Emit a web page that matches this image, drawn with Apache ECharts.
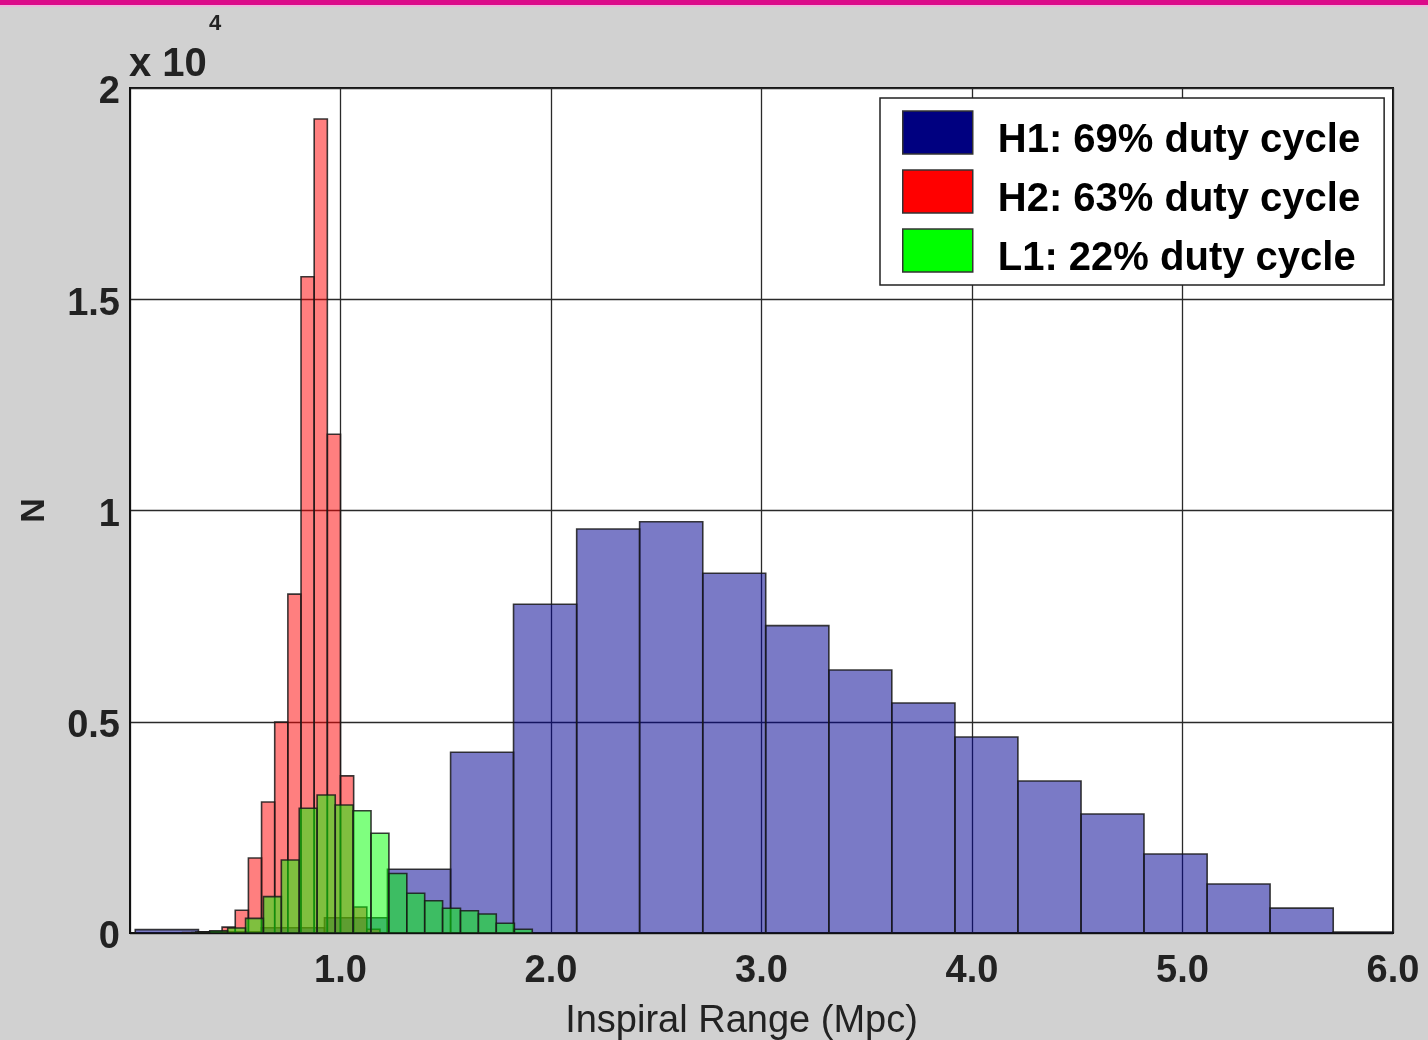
<!DOCTYPE html>
<html>
<head>
<meta charset="utf-8">
<script src="https://cdn.jsdelivr.net/npm/echarts@6/dist/echarts.min.js"></script>
<style>
html,body{margin:0;padding:0;background:#d1d1d1;}
#chart{width:1428px;height:1040px;}
</style>
</head>
<body>
<div id="chart"></div>
<script>
// ---- data (bin edges in Mpc, counts) ----
const seriesNames = ['H1: 69% duty cycle', 'H2: 63% duty cycle', 'L1: 22% duty cycle'];
const h1Edges = [0.025, 0.325, 0.624, 0.924, 1.223, 1.523, 1.822, 2.122, 2.421, 2.721, 3.020, 3.320, 3.619, 3.919, 4.218, 4.518, 4.817, 5.117, 5.416, 5.716, 6.015];
const h1Counts = [80, 30, 125, 360, 1508, 4277, 7780, 9562, 9735, 8514, 7274, 6225, 5444, 4639, 3598, 2817, 1870, 1160, 588, 25];
const h2Edges = [0.25, 0.3125, 0.375, 0.4375, 0.5, 0.5625, 0.625, 0.6875, 0.75, 0.8125, 0.875, 0.9375, 1.0, 1.0625, 1.125, 1.1875];
const h2Counts = [10, 25, 30, 140, 540, 1775, 3100, 4990, 8020, 15534, 19266, 11803, 3720, 615, 88];
const l1Edges = [0.294, 0.379, 0.464, 0.549, 0.634, 0.719, 0.804, 0.889, 0.975, 1.060, 1.145, 1.230, 1.315, 1.400, 1.485, 1.570, 1.655, 1.740, 1.826, 1.911];
const l1Counts = [10, 50, 120, 347, 860, 1728, 2951, 3266, 3030, 2895, 2360, 1410, 940, 765, 585, 528, 450, 230, 88];
const xTicks = [1.0, 2.0, 3.0, 4.0, 5.0, 6.0];
const yTicks = [0, 0.5, 1, 1.5, 2]; // x 10^4

function toBins(edges, counts) {
  return counts.map((c, i) => [edges[i], edges[i + 1], c]);
}

const FF = '"Liberation Sans", Arial, sans-serif';
const S = {tick: 38, name: 38, legend: 40, x10: 40, sup: 22, N: 34};

function makeRender(fill) {
  return function (params, api) {
    const p0 = api.coord([api.value(0), api.value(2)]);
    const p1 = api.coord([api.value(1), 0]);
    return {
      type: 'rect',
      shape: {x: p0[0], y: p0[1], width: p1[0] - p0[0], height: p1[1] - p0[1]},
      style: {fill: fill, stroke: 'rgba(25,25,25,0.85)', lineWidth: 1.6}
    };
  };
}

const chart = echarts.init(document.getElementById('chart'), null, {renderer: 'canvas'});
chart.setOption({
  backgroundColor: '#d1d1d1',
  animation: false,
  textStyle: {fontFamily: FF},
  grid: {left: 130, right: 35, top: 88, bottom: 107, containLabel: false, outerBoundsMode: 'none',
    show: true, backgroundColor: '#ffffff', borderColor: '#111', borderWidth: 2},
  xAxis: {
    type: 'value', min: 0, max: 6, interval: 1,
    name: 'Inspiral Range (Mpc)', nameLocation: 'middle', nameGap: 70,
    nameTextStyle: {fontSize: S.name, color: '#222', fontFamily: FF, padding: [0, 40, 0, 0]},
    axisLine: {show: true, lineStyle: {color: '#111', width: 2}},
    axisTick: {show: false},
    axisLabel: {margin: 20, fontSize: S.tick, color: '#222', fontWeight: 'bold', fontFamily: FF,
      formatter: v => (xTicks.indexOf(v) >= 0 ? v.toFixed(1) : '')},
    splitLine: {show: true, lineStyle: {color: '#2a2a2a', width: 1.3}}
  },
  yAxis: {
    type: 'value', min: 0, max: 20000, interval: 5000,
    name: 'N', nameLocation: 'middle', nameRotate: 90, nameGap: 78,
    nameTextStyle: {fontSize: S.N, color: '#222', fontWeight: 'bold', fontFamily: FF},
    axisLine: {show: true, lineStyle: {color: '#111', width: 2}},
    axisTick: {show: false},
    axisLabel: {margin: 10, fontSize: S.tick, color: '#222', fontWeight: 'bold', fontFamily: FF,
      formatter: v => { const t = v / 10000; return yTicks.indexOf(t) >= 0 ? '{v|' + String(t) + '}' : ''; },
      rich: {v: {fontSize: S.tick, fontWeight: 'bold', color: '#222', fontFamily: FF, padding: [10, 0, 0, 0]}}},
    splitLine: {show: true, lineStyle: {color: '#2a2a2a', width: 1.3}}
  },
  legend: {
    orient: 'vertical', left: 880, top: 98,
    padding: [6, 24, 6, 22],
    itemWidth: 70, itemHeight: 43, itemGap: 2,
    backgroundColor: '#ffffff', borderColor: '#222', borderWidth: 1.5,
    selectedMode: false,
    formatter: name => '{t|' + name + '}',
    textStyle: {fontSize: S.legend, fontWeight: 'bold', color: '#000', fontFamily: FF, padding: [0, 0, 0, 20],
      rich: {t: {fontSize: S.legend, fontWeight: 'bold', color: '#000', fontFamily: FF, lineHeight: 26, padding: [17, 0, 0, 0]}}},
    data: [
      {name: seriesNames[0], icon: 'rect', itemStyle: {color: '#000080', borderColor: '#333', borderWidth: 1.5}},
      {name: seriesNames[1], icon: 'rect', itemStyle: {color: '#ff0000', borderColor: '#333', borderWidth: 1.5}},
      {name: seriesNames[2], icon: 'rect', itemStyle: {color: '#00ff00', borderColor: '#333', borderWidth: 1.5}}
    ]
  },
  graphic: [
    {type: 'rect', left: 0, top: 0, shape: {width: 1428, height: 5}, style: {fill: '#dc0a8a'}, z: 100},
    {type: 'rect', left: 0, top: 5, shape: {width: 1428, height: 2}, style: {fill: '#ecb6dc'}, z: 100},
    {type: 'text', left: 129, top: 45, style: {text: 'x 10', fontSize: S.x10, fontFamily: FF, fontWeight: 'bold', fill: '#222'}},
    {type: 'text', left: 209, top: 13, style: {text: '4', fontSize: S.sup, fontFamily: FF, fontWeight: 'bold', fill: '#222'}}
  ],
  series: [
    {name: seriesNames[0], type: 'custom', clip: true, itemStyle: {color: '#000080'},
      renderItem: makeRender('rgba(0,0,145,0.52)'), encode: {x: [0, 1], y: 2}, data: toBins(h1Edges, h1Counts)},
    {name: seriesNames[1], type: 'custom', clip: true, itemStyle: {color: '#ff0000'},
      renderItem: makeRender('rgba(255,0,0,0.5)'), encode: {x: [0, 1], y: 2}, data: toBins(h2Edges, h2Counts)},
    {name: seriesNames[2], type: 'custom', clip: true, itemStyle: {color: '#00ff00'},
      renderItem: makeRender('rgba(0,255,0,0.5)'), encode: {x: [0, 1], y: 2}, data: toBins(l1Edges, l1Counts)}
  ]
});
</script>
</body>
</html>
